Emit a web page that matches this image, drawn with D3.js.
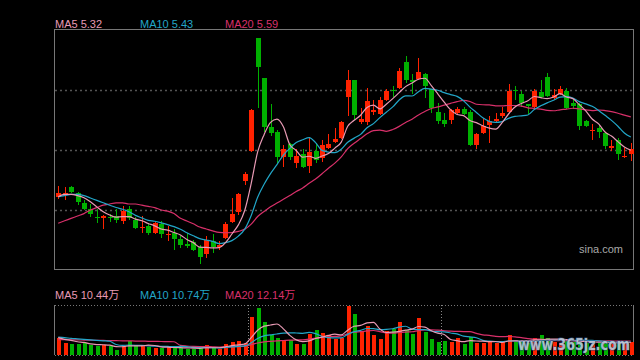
<!DOCTYPE html>
<html><head><meta charset="utf-8">
<script src="https://cdn.jsdelivr.net/npm/d3@7"></script>
<style>html,body{margin:0;padding:0;background:#000;overflow:hidden}svg{display:block}</style>
</head><body>
<svg id="c" width="640" height="360"></svg>
<script>
// ---- data ----
const openP  = [4.93,4.95,5.01,4.96,4.88,4.83,4.76,4.75,4.76,4.77,4.73,4.83,4.74,4.67,4.69,4.63,4.70,4.61,4.63,4.58,
                4.54,4.55,4.51,4.45,4.56,4.51,4.59,4.72,4.80,5.06,5.31,6.25,5.92,5.51,5.47,5.26,5.37,5.21,5.29,5.19,
                5.31,5.25,5.34,5.39,5.42,5.76,5.90,5.55,5.55,5.64,5.62,5.74,5.82,5.84,6.05,5.90,5.91,5.95,5.83,5.64,
                5.57,5.57,5.63,5.66,5.64,5.36,5.46,5.53,5.56,5.60,5.64,5.82,5.79,5.70,5.68,5.80,5.93,5.75,5.79,5.81,
                5.71,5.70,5.56,5.48,5.50,5.46,5.34,5.40,5.26,5.29];
const highP  = [5.02,5.01,5.02,4.97,4.90,4.87,4.83,4.78,4.79,4.83,4.85,4.85,4.76,4.77,4.71,4.72,4.73,4.69,4.66,4.60,
                4.63,4.57,4.53,4.60,4.62,4.56,4.72,4.92,4.96,5.14,5.66,6.25,5.92,5.70,5.49,5.36,5.38,5.33,5.33,5.43,
                5.38,5.40,5.45,5.50,5.56,5.99,5.90,5.67,5.84,5.74,5.76,5.83,5.85,6.00,6.10,5.95,6.09,5.96,5.83,5.71,
                5.63,5.66,5.68,5.68,5.65,5.46,5.59,5.60,5.63,5.68,5.87,5.85,5.81,5.70,5.83,5.90,5.96,5.83,5.85,5.84,
                5.74,5.71,5.57,5.54,5.53,5.47,5.40,5.42,5.34,5.38];
const lowP   = [4.91,4.90,4.96,4.86,4.82,4.76,4.71,4.66,4.72,4.71,4.70,4.74,4.66,4.63,4.61,4.62,4.59,4.56,4.49,4.50,
                4.50,4.48,4.37,4.42,4.46,4.49,4.58,4.71,4.78,5.03,5.30,5.67,5.47,5.44,5.21,5.18,5.24,5.17,5.17,5.13,
                5.21,5.22,5.33,5.38,5.41,5.60,5.57,5.54,5.53,5.61,5.61,5.73,5.76,5.83,5.88,5.79,5.90,5.75,5.63,5.54,
                5.51,5.54,5.62,5.61,5.35,5.33,5.45,5.38,5.55,5.59,5.63,5.74,5.68,5.62,5.65,5.75,5.76,5.74,5.78,5.66,
                5.66,5.49,5.51,5.40,5.42,5.33,5.31,5.24,5.25,5.23];
const closeP = [4.96,4.96,4.97,4.89,4.83,4.79,4.75,4.77,4.75,4.74,4.81,4.75,4.67,4.68,4.63,4.71,4.62,4.62,4.58,4.53,
                4.52,4.49,4.43,4.57,4.51,4.53,4.70,4.79,4.95,5.12,5.65,6.01,5.51,5.46,5.26,5.33,5.26,5.27,5.18,5.30,
                5.24,5.36,5.37,5.41,5.55,5.90,5.61,5.58,5.73,5.65,5.74,5.81,5.81,5.98,5.90,5.89,5.97,5.85,5.67,5.56,
                5.54,5.65,5.66,5.62,5.36,5.45,5.52,5.56,5.58,5.63,5.81,5.81,5.71,5.69,5.81,5.76,5.77,5.78,5.83,5.67,
                5.69,5.52,5.52,5.49,5.47,5.35,5.35,5.29,5.27,5.33];
// volume, unit 万
const volume = [14.2,9.8,8.8,8.8,9.8,8.0,7.2,8.0,7.2,4.0,7.2,11.2,8.0,7.2,6.6,5.8,5.8,6.6,5.8,5.8,
                5.0,5.0,5.8,8.0,5.8,5.0,8.8,10.6,11.2,9.4,31.2,38.6,27.2,16.0,13.6,11.4,12.0,8.8,8.8,16.8,
                20.8,17.8,16.0,13.4,14.2,40.0,33.8,19.4,24.0,16.0,12.8,19.4,21.4,27.2,20.6,16.8,30.4,18.6,12.8,10.4,
                11.2,10.4,13.6,8.8,14.6,9.8,9.8,11.2,9.8,10.4,16.0,10.6,11.0,10.0,14.0,16.0,14.2,11.0,10.0,12.0,
                11.0,12.0,10.0,9.0,10.0,11.0,10.0,9.0,11.0,11.0];
// moving-average values before enough history is visible
const ma5Lead  = [4.93,4.95,4.95,4.94];
const ma10Lead = [4.93,4.94,4.95,4.95,4.94,4.92,4.90,4.88,4.86];
const ma20Lead = [4.71,4.73,4.75,4.77,4.79,4.82,4.84,4.86,4.87,4.88,4.88,4.87,4.87,4.86,4.85,4.84,4.82,4.81,4.79];
const vma5Lead  = [14.2,12.8,12.0,10.8];
const vma10Lead = [14.6,14.2,13.6,13.2,12.8,12.4,12.0,11.6,11.2];
const vma20Lead = [12.6,12.5,12.4,12.3,12.2,12.1,12.0,11.9,11.8,11.7,11.6,11.5,11.4,11.3,11.2,11.1,11.0,10.9,10.8];
const maLabels  = ["MA5 5.32","MA10 5.43","MA20 5.59"];
const vmaLabels = ["MA5 10.44万","MA10 10.74万","MA20 12.14万"];
const priceGrid = [4.82,5.32,5.82];
const priceDomain = [4.32,6.32];

// ---- drawing ----
const N = closeP.length;
const L = 55, R = 634, T = 30, B = 270, VT = 305, VB = 355;
const RED = "#ff2200", GREEN = "#00b000";
const C5 = "#e89ab4", C10 = "#22a6c8", C20 = "#d8306a";
const svg = d3.select("#c");
svg.append("rect").attr("width",640).attr("height",360).attr("fill","#000");

const x = d3.scaleBand().domain(d3.range(N)).range([L,R]).paddingInner(0.22).paddingOuter(0.11);
const cx = i => x(i) + x.bandwidth()/2;
const y = d3.scaleLinear().domain(priceDomain).range([B,T]);
const vy = d3.scaleLinear().domain([0, d3.max(volume)]).range([VB, VT+1]);

function movingAvg(vals, n, lead){
  return vals.map((v,i)=> i < lead.length ? lead[i] : d3.mean(vals.slice(i-n+1,i+1)));
}
const ma5 = movingAvg(closeP,5,ma5Lead), ma10 = movingAvg(closeP,10,ma10Lead), ma20 = movingAvg(closeP,20,ma20Lead);
const vma5 = movingAvg(volume,5,vma5Lead), vma10 = movingAvg(volume,10,vma10Lead), vma20 = movingAvg(volume,20,vma20Lead);

// grid
svg.append("g").selectAll("line").data(priceGrid).join("line")
  .attr("x1",L).attr("x2",R).attr("y1",d=>Math.round(y(d))+0.5).attr("y2",d=>Math.round(y(d))+0.5)
  .attr("stroke","#555").attr("stroke-width",1.3).attr("stroke-dasharray","2,3");

// frame main
svg.append("rect").attr("x",L-0.5).attr("y",T-0.5).attr("width",R-L).attr("height",B-T)
  .attr("fill","none").attr("stroke","#777").attr("stroke-width",1);

// candles
const g = svg.append("g").attr("shape-rendering","crispEdges");
const up = i => closeP[i] >= openP[i];
g.selectAll("line.w").data(d3.range(N)).join("line").attr("class","w")
  .attr("x1",i=>Math.round(cx(i))+0.5).attr("x2",i=>Math.round(cx(i))+0.5)
  .attr("y1",i=>y(highP[i])).attr("y2",i=>y(lowP[i]))
  .attr("stroke",i=>up(i)?RED:GREEN).attr("stroke-width",1);
g.selectAll("rect.b").data(d3.range(N)).join("rect").attr("class","b")
  .attr("x",i=>Math.round(cx(i))-2).attr("width",5)
  .attr("y",i=>y(Math.max(openP[i],closeP[i])))
  .attr("height",i=>Math.max(1,Math.abs(y(openP[i])-y(closeP[i]))))
  .attr("fill",i=>up(i)?RED:GREEN);

// MA lines
const line = d3.line().x((d,i)=>cx(i)).y(d=>y(d)).curve(d3.curveMonotoneX);
[[ma20,C20],[ma10,C10],[ma5,C5]].forEach(([d,c])=>{
  svg.append("path").datum(d).attr("d",line).attr("fill","none").attr("stroke",c).attr("stroke-width",1.2);
});

// legend
const lx = [55,140,225], lc = [C5,C10,C20];
const FONT = "Liberation Sans, Arial, 'Noto Sans CJK SC', sans-serif";
svg.append("g").selectAll("text").data(maLabels).join("text")
  .attr("x",(d,i)=>lx[i]).attr("y",28).text(d=>d)
  .attr("fill",(d,i)=>lc[i]).attr("font-size",11).attr("font-family",FONT);
svg.append("g").selectAll("text").data(vmaLabels).join("text")
  .attr("x",(d,i)=>lx[i]).attr("y",299).text(d=>d)
  .attr("fill",(d,i)=>lc[i]).attr("font-size",11).attr("font-family",FONT);

svg.append("text").attr("x",623).attr("y",253).attr("text-anchor","end").text("sina.com")
  .attr("fill","#a8a8a8").attr("font-size",11).attr("font-family","Liberation Sans, Arial, sans-serif");

// volume panel
svg.append("line").attr("x1",L).attr("x2",R).attr("y1",VT+0.5).attr("y2",VT+0.5).attr("stroke","#777").attr("stroke-dasharray","1,2");
svg.append("line").attr("x1",L).attr("x2",R).attr("y1",VB+0.5).attr("y2",VB+0.5).attr("stroke","#777").attr("stroke-dasharray","1,2");
svg.append("line").attr("x1",L-0.5).attr("x2",L-0.5).attr("y1",VT).attr("y2",VB).attr("stroke","#777");
svg.append("line").attr("x1",R-0.5).attr("x2",R-0.5).attr("y1",VT).attr("y2",VB).attr("stroke","#777");
[30,60].forEach(k=>{
  const xx = Math.round(x(k) - x.step()*x.paddingInner()/2)+0.5;
  svg.append("line").attr("x1",xx).attr("x2",xx).attr("y1",VT).attr("y2",VB).attr("stroke","#888").attr("stroke-dasharray","1,2");
});
svg.append("g").attr("shape-rendering","crispEdges").selectAll("rect").data(d3.range(N)).join("rect")
  .attr("x",i=>Math.round(cx(i))-1.5).attr("width",4)
  .attr("y",i=>vy(volume[i])).attr("height",i=>VB-vy(volume[i]))
  .attr("fill",i=>up(i)?RED:GREEN);
const vline = d3.line().x((d,i)=>cx(i)).y(d=>vy(d)).curve(d3.curveMonotoneX);
[[vma20,C20],[vma10,C10],[vma5,C5]].forEach(([d,c])=>{
  svg.append("path").datum(d).attr("d",vline).attr("fill","none").attr("stroke",c).attr("stroke-width",1.2);
});

// watermark
svg.append("text").attr("x",518).attr("y",350).text("www.365jz.com")
  .attr("font-size",16).attr("font-weight","bold").attr("font-family","DejaVu Sans, sans-serif")
  .attr("textLength",112).attr("lengthAdjust","spacingAndGlyphs")
  .attr("fill","#b9c9da").attr("stroke","#2a4a78").attr("stroke-width",1.1).attr("paint-order","stroke")
  .attr("opacity",0.9);
</script>
</body></html>
